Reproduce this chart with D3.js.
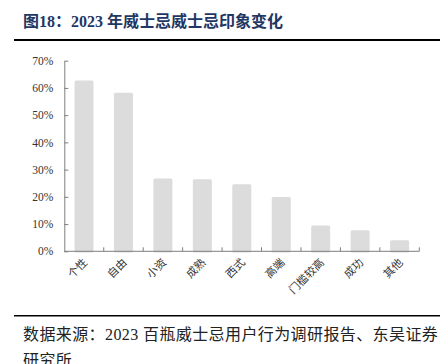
<!DOCTYPE html>
<html>
<head>
<meta charset="utf-8">
<script src="https://cdn.jsdelivr.net/npm/d3@7"></script>
<style>
  body { margin: 0; background: #fff; }
  svg { display: block; }
</style>
</head>
<body>
<div id="chart"></div>
<script>
// data
const categories = ['个性', '自由', '小资', '成熟', '西式', '高端', '门槛较高', '成功', '其他']
const shares = [62.7, 58.2, 26.7, 26.5, 24.6, 19.9, 9.5, 7.7, 4.1]
const yTicks = [0, 10, 20, 30, 40, 50, 60, 70]

const width = 447, height = 364
const serif = '"Liberation Serif", "Noto Sans CJK SC", serif'
const svg = d3.select('#chart').append('svg')
    .attr('width', width)
    .attr('height', height)

// header
svg.append('text')
    .attr('x', 23).attr('y', 27)
    .attr('font-family', serif)
    .attr('font-weight', 'bold')
    .attr('font-size', 16)
    .attr('fill', '#1f3763')
    .text('图18：2023 年威士忌威士忌印象变化')

svg.append('line')
    .attr('x1', 14).attr('x2', 440)
    .attr('y1', 40).attr('y2', 40)
    .attr('stroke', '#000').attr('stroke-width', 2)

const x = d3.scaleBand().domain(categories).range([64.3, 419.3])
const y = d3.scaleLinear().domain([0, 70]).range([251.3, 60.7])

const barW = 19
svg.append('g').selectAll('rect')
  .data(shares)
  .join('rect')
    .attr('x', (d, i) => x(categories[i]) + x.bandwidth() / 2 - barW / 2)
    .attr('y', d => y(d))
    .attr('width', barW)
    .attr('height', d => y(0) - y(d) + 1.2)
    .attr('rx', 1.5)
    .attr('fill', '#dcdcdc')

// y axis
const yAxis = svg.append('g')
    .attr('transform', `translate(${x.range()[0]},0)`)
    .call(d3.axisLeft(y).tickValues(yTicks).tickSizeInner(-4).tickSizeOuter(0)
      .tickPadding(11).tickFormat(d => d + '%'))
yAxis.select('.domain').attr('stroke', '#7f7f7f')
yAxis.selectAll('.tick line').attr('stroke', '#7f7f7f')
yAxis.selectAll('.tick text')
    .attr('font-family', '"Liberation Serif", serif')
    .attr('font-size', 11.5)
    .attr('fill', '#333')

// x axis: ticks sit on the boundaries between categories
const xg = svg.append('g')
xg.append('line')
    .attr('x1', x.range()[0]).attr('x2', x.range()[1])
    .attr('y1', y(0)).attr('y2', y(0))
    .attr('stroke', '#7f7f7f')
xg.selectAll('line.tk')
  .data(categories)
  .join('line')
    .attr('class', 'tk')
    .attr('x1', d => x(d) + x.step()).attr('x2', d => x(d) + x.step())
    .attr('y1', y(0)).attr('y2', y(0) - 4)
    .attr('stroke', '#7f7f7f')
xg.selectAll('text')
  .data(categories)
  .join('text')
    .attr('transform', d => `translate(${x(d) + x.bandwidth() / 2 + 4},${y(0) + 12}) rotate(-45)`)
    .attr('text-anchor', 'end')
    .attr('font-family', '"Noto Sans CJK SC", sans-serif')
    .attr('font-size', 11)
    .attr('fill', '#333')
    .text(d => d)

// footer
svg.append('line')
    .attr('x1', 14).attr('x2', 440)
    .attr('y1', 315.7).attr('y2', 315.7)
    .attr('stroke', '#000').attr('stroke-width', 1.5)

const src = svg.append('text')
    .attr('font-family', serif)
    .attr('font-size', 16)
    .attr('letter-spacing', 0.4)
    .attr('fill', '#222')
src.append('tspan').attr('x', 23).attr('y', 340)
    .text('数据来源：2023 百瓶威士忌用户行为调研报告、东吴证券')
src.append('tspan').attr('x', 23).attr('y', 366)
    .text('研究所')
</script>
</body>
</html>
